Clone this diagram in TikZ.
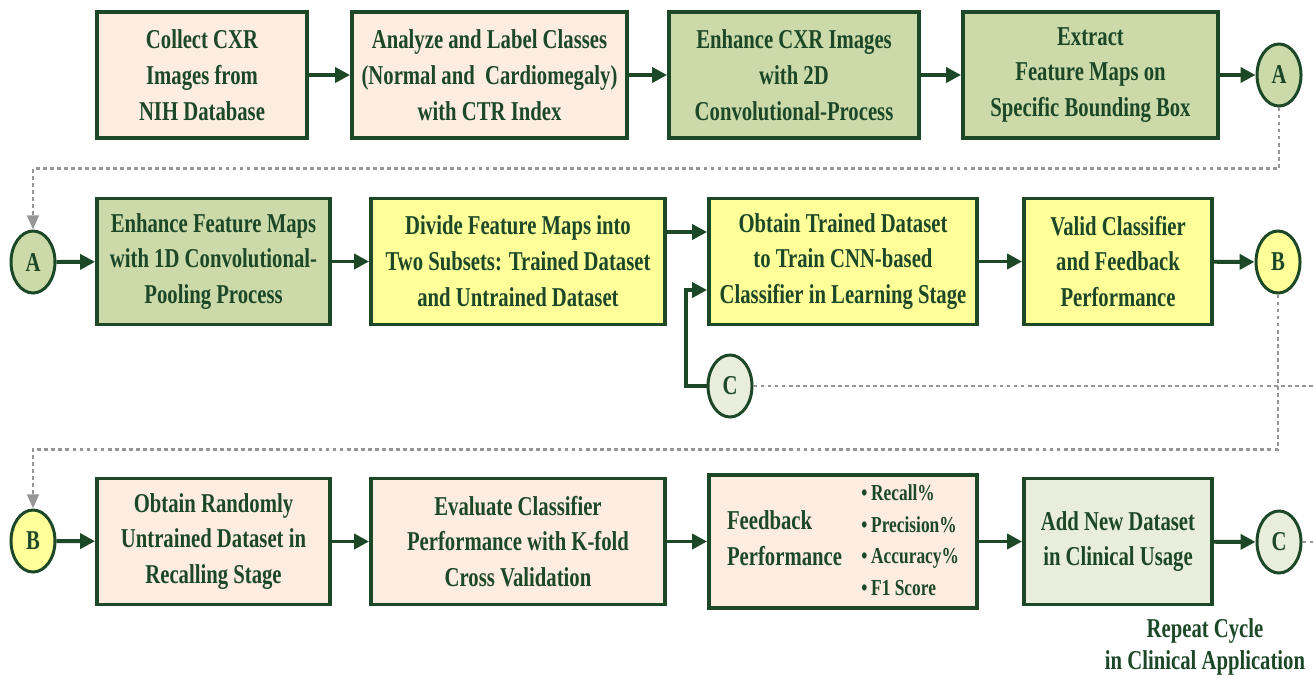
\documentclass[tikz,border=0pt]{standalone}
\usepackage{fontspec}
\setmainfont{Liberation Serif}[FakeStretch=0.76]
\usetikzlibrary{shapes.geometric,arrows.meta}
\definecolor{dkgreen}{RGB}{28,72,40}
\definecolor{peach}{RGB}{253,236,224}
\definecolor{olive}{RGB}{204,218,170}
\definecolor{lemon}{RGB}{255,255,153}
\definecolor{pale}{RGB}{233,238,220}
\definecolor{dotgray}{RGB}{150,150,150}

\begin{document}
\begin{tikzpicture}[
    every node/.style={text=dkgreen, font=\fontsize{15.5}{20.4}\selectfont\bfseries},
    proc/.style={draw=dkgreen, line width=2.2pt, minimum height=2.52cm, align=center, inner sep=2pt},
    joint/.style={draw=dkgreen, line width=1.7pt, ellipse, minimum width=0.88cm, minimum height=1.24cm, inner sep=0pt},
    conn/.style={draw=dkgreen, line width=2.2pt, -{Triangle[length=8.5pt,width=8.5pt]}},
    link/.style={draw=dotgray, line width=1.6pt, dash pattern=on 2.2pt off 1.8pt}
  ]
        \useasboundingbox (0,0) rectangle (26.28,-13.62);

        % row 1
        \node[proc, fill=peach, minimum width=4.2cm] (collect) at (4.04,-1.5) {Collect CXR\\Images from\\NIH Database};
        \node[proc, fill=peach, minimum width=5.5cm] (label) at (9.79,-1.5) {Analyze and Label Classes\\(Normal and\ \ Cardiomegaly)\\with CTR Index};
        \node[proc, fill=olive, minimum width=5.0cm] (enh2d) at (15.88,-1.5) {Enhance CXR Images\\with 2D\\Convolutional-Process};
        \node[proc, fill=olive, minimum width=5.1cm] (extract) at (21.81,-1.5) {Extract\\Feature Maps on\\Specific Bounding Box};
        \node[joint, fill=olive] (a1) at (25.58,-1.5) {A};

        % row 2
        \node[joint, fill=olive] (a2) at (0.66,-5.24) {A};
        \node[proc, fill=olive, minimum width=4.66cm] (enh1d) at (4.27,-5.23) {Enhance Feature Maps\\with 1D Convolutional-\\Pooling Process};
        \node[proc, fill=lemon, minimum width=5.88cm] (divide) at (10.36,-5.23) {Divide Feature Maps into\\Two Subsets: Trained Dataset\\and Untrained Dataset};
        \node[proc, fill=lemon, minimum width=5.36cm] (train) at (16.86,-5.23) {Obtain Trained Dataset\\to Train CNN-based\\Classifier in Learning Stage};
        \node[proc, fill=lemon, minimum width=3.76cm] (valid) at (22.36,-5.23) {Valid Classifier\\and Feedback\\Performance};
        \node[joint, fill=lemon] (b1) at (25.56,-5.24) {B};
        \node[joint, fill=pale] (c1) at (14.6,-7.72) {C};
        \coordinate (cbend) at (13.72,-7.72);

        % row 3
        \node[joint, fill=lemon] (b2) at (0.66,-10.82) {B};
        \node[proc, fill=peach, minimum width=4.66cm] (recall) at (4.27,-10.83) {Obtain Randomly\\Untrained Dataset in\\Recalling Stage};
        \node[proc, fill=peach, minimum width=5.88cm] (eval) at (10.36,-10.83) {Evaluate Classifier\\Performance with K-fold\\Cross Validation};
        \node[proc, fill=peach, minimum width=5.36cm] (feedback) at (16.86,-10.83) {\begin{tabular}{@{}l@{}}Feedback\\Performance\end{tabular}\hspace{11pt}%
            {\fontsize{13}{18}\selectfont\begin{tabular}{@{}l@{}}\textbullet\,Recall\%\\\textbullet\,Precision\%\\\textbullet\,Accuracy\%\\\textbullet\,F1 Score\end{tabular}}};
        \node[proc, fill=pale, minimum width=3.76cm] (addnew) at (22.36,-10.83) {Add New Dataset\\in Clinical Usage};
        \node[joint, fill=pale] (c2) at (25.58,-10.84) {C};
        \node[align=center, font=\fontsize{15.5}{18.7}\selectfont\bfseries] (repeat) at (24.1,-12.94) {Repeat Cycle\\in Clinical Application};

        % free ends at the right border
        \coordinate (cout1) at (26.28,-7.72);
        \coordinate (cout2) at (26.28,-10.84);

        \draw[conn] (collect) -- (label);
        \draw[conn] (label) -- (enh2d);
        \draw[conn] (enh2d) -- (extract);
        \draw[conn] (extract) -- (a1);
        \draw[conn] (a2) -- (enh1d);
        \draw[conn] (enh1d) -- (divide);
        \draw[conn] ([yshift=0.59cm]divide.east) -- ([yshift=0.59cm]train.west);
        \draw[conn] (c1) -- (cbend) |- ([yshift=-0.57cm]train.west);
        \draw[conn] (train) -- (valid);
        \draw[conn] (valid) -- (b1);
        \draw[conn] (b2) -- (recall);
        \draw[conn] (recall) -- (eval);
        \draw[conn] (eval) -- (feedback);
        \draw[conn] (feedback) -- (addnew);
        \draw[conn] (addnew) -- (c2);

        \draw[link, -{Triangle[length=8pt,width=6.5pt]}] (a1.south) -- ++(0,-1.22) -| (a2);
        \draw[link, -{Triangle[length=8pt,width=6.5pt]}] (b1.south) -- ++(0,-3.1) -| (b2);
        \draw[link] (c1) -- (cout1);
        \draw[link] (c2) -- (cout2);
    \end{tikzpicture}
\end{document}
